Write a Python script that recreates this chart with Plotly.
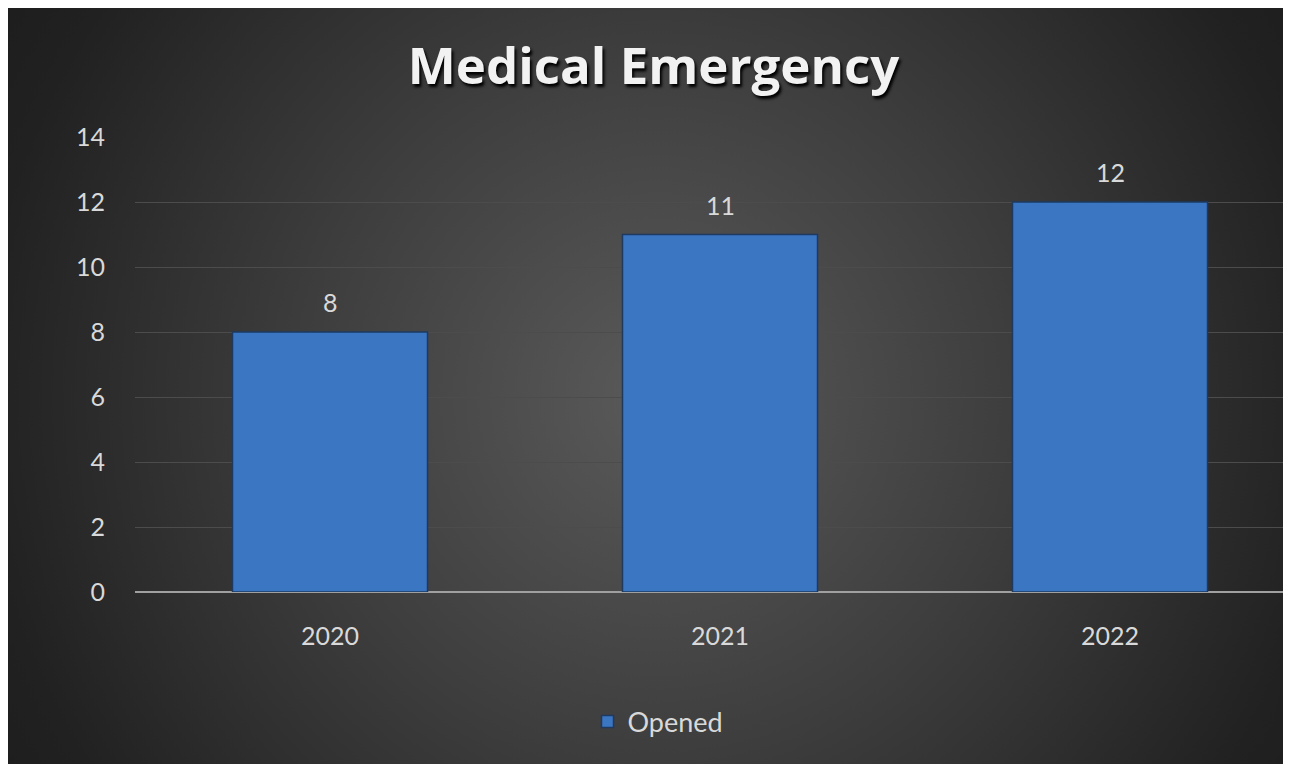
import base64
import plotly.graph_objects as go

categories = ["2020", "2021", "2022"]
opened = [8, 11, 12]
y_ticks = [0, 2, 4, 6, 8, 10, 12, 14]
title_text = "Medical Emergency"
series_name = "Opened"

W, H = 1291, 764
ML, MR, MT, MB = 127, 0, 129, 180
pw, ph = W - ML - MR, H - MT - MB

def px_to_paper_x(px):
    return (px - ML) / pw

def px_to_paper_y(py):
    return (H - MB - py) / ph

svg = f'''<svg xmlns="http://www.w3.org/2000/svg" width="{W}" height="{H}" viewBox="0 0 {W} {H}" preserveAspectRatio="none">
<defs><radialGradient id="g" gradientUnits="userSpaceOnUse" cx="650" cy="390" r="800">
<stop offset="0" stop-color="#5a5a5a"/>
<stop offset="0.45" stop-color="#3d3d3d"/>
<stop offset="0.85" stop-color="#212121"/>
<stop offset="1" stop-color="#1c1c1c"/>
</radialGradient></defs>
<rect x="0" y="0" width="{W}" height="{H}" fill="url(#g)"/>
</svg>'''
src = "data:image/svg+xml;base64," + base64.b64encode(svg.encode()).decode()

fig = go.Figure()
fig.add_trace(go.Bar(
    x=categories, y=opened, name=series_name, width=0.5,
    marker=dict(color="#3b76c2", line=dict(color="#1d3a63", width=1.5)),
    showlegend=True,
))

for i, v in enumerate(opened):
    fig.add_annotation(x=i, y=v, xref="x", yref="y", text=str(v), showarrow=False,
                       yanchor="bottom", yshift=13,
                       font=dict(family="Lato, Open Sans, sans-serif", size=25, color="#d9d9d9"))

x0 = px_to_paper_x(0)
y0 = px_to_paper_y(0)
fig.add_layout_image(dict(source=src, xref="paper", yref="paper", x=x0, y=y0,
                          sizex=px_to_paper_x(W) - x0, sizey=y0 - px_to_paper_y(H),
                          xanchor="left", yanchor="top", sizing="stretch", layer="below"))

fig.update_layout(
    width=W, height=H,
    margin=dict(l=ML, r=MR, t=MT, b=MB, pad=0),
    paper_bgcolor="#2a2a2a", plot_bgcolor="rgba(0,0,0,0)",
    title=dict(text=title_text, x=0.5, xanchor="center",
               y=1 - 58 / H, yanchor="middle",
               font=dict(family="Open Sans, Lato, sans-serif", size=51, color="#f2f2f2",
                         weight="bold", shadow="2px 3px 3px #000")),
    font=dict(family="Lato, Open Sans, sans-serif", color="#d9d9d9"),
    xaxis=dict(type="category", range=[-0.5, (W - 322) / 390], showgrid=False,
               tickfont=dict(size=25, color="#d9d9d9"),
               ticklabelstandoff=27, showline=False, zeroline=False),
    yaxis=dict(range=[0, 14], tickvals=y_ticks, showgrid=True, gridcolor="#4c4c4c", gridwidth=1,
               zeroline=True, zerolinecolor="#a0a0a0", zerolinewidth=2,
               tickfont=dict(size=25, color="#d9d9d9"), ticklabelstandoff=29, showline=False),
    legend=dict(orientation="h", x=px_to_paper_x(650), xanchor="center", y=px_to_paper_y(714),
                yanchor="middle", font=dict(size=27, color="#d9d9d9"), bgcolor="rgba(0,0,0,0)"),
    bargap=0.5,
)

fig.write_html("out.html")
